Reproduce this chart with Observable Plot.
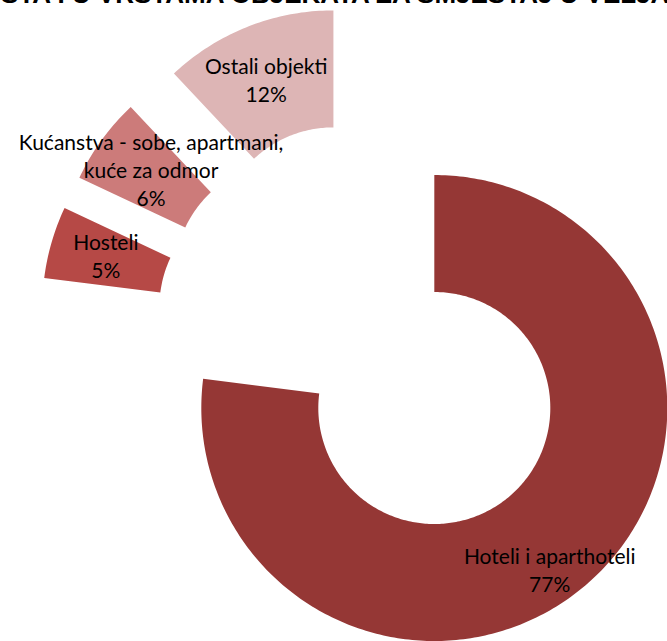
<!DOCTYPE html>
<html><head><meta charset="utf-8">
<script src="https://cdn.jsdelivr.net/npm/d3@7"></script>
<script src="https://cdn.jsdelivr.net/npm/@observablehq/plot@0.6"></script>
<style>
html,body{margin:0;padding:0;background:#fff;}
#wrap{position:relative;width:667px;height:641px;overflow:hidden;}
#title{position:absolute;left:0;top:-21px;white-space:nowrap;font:bold 26px "Liberation Sans",Arial,sans-serif;color:#000;}
#chart{position:absolute;left:0;top:0;}
</style></head><body>
<div id="wrap"><div id="title">NOĆENJA TURISTA I <span id="anchor">U VRSTAMA OBJEKATA ZA SMJEŠTAJ U VELJAČI</span></div><div id="chart"></div></div>
<script>
// data
const categories = ["Hoteli i aparthoteli", "Hosteli", "Kućanstva - sobe, apartmani, kuće za odmor", "Ostali objekti"];
const labelNames = ["Hoteli i aparthoteli", "Hosteli", "Kućanstva - sobe, apartmani,\nkuće za odmor", "Ostali objekti"];
const shares = [77, 5, 6, 12];

// styles / layout
const colors = ["#953735", "#B64946", "#CC7B7A", "#DDB5B5"];
const W = 667, H = 641;
const center = [369, 334];
const outerR = 233, innerR = 116, explode = 98;
const labelNudge = {
  "Hoteli i aparthoteli": [0, 30],
  "Hosteli": [-2, -3],
  "Kućanstva - sobe, apartmani, kuće za odmor": [2, -5],
  "Ostali objekti": [-3, -2]
};

const total = d3.sum(shares);
let acc = 0;
const slices = categories.map((name, i) => {
  const a0 = acc / total * 2 * Math.PI;
  acc += shares[i];
  const a1 = acc / total * 2 * Math.PI;
  const mid = (a0 + a1) / 2;
  const cx = center[0] + explode * Math.sin(mid);
  const cy = center[1] - explode * Math.cos(mid);
  return {name, i, a0, a1, mid, cx, cy};
});

const pts = [];
for (const s of slices) {
  const n = Math.max(8, Math.ceil((s.a1 - s.a0) / (2 * Math.PI) * 400));
  for (let k = 0; k <= n; k++) {
    const a = s.a0 + (s.a1 - s.a0) * k / n;
    pts.push({name: s.name, x: s.cx + outerR * Math.sin(a), y: s.cy - outerR * Math.cos(a)});
  }
  for (let k = n; k >= 0; k--) {
    const a = s.a0 + (s.a1 - s.a0) * k / n;
    pts.push({name: s.name, x: s.cx + innerR * Math.sin(a), y: s.cy - innerR * Math.cos(a)});
  }
}

const labels = slices.map(s => {
  const rm = (outerR + innerR) / 2;
  const nudge = labelNudge[s.name] || [0, 0];
  return {
    x: s.cx + rm * Math.sin(s.mid) + nudge[0],
    y: s.cy - rm * Math.cos(s.mid) + nudge[1],
    text: labelNames[s.i] + "\n" + shares[s.i] + "%"
  };
});

const chart = Plot.plot({
  width: W, height: H, margin: 0,
  style: {background: "transparent", fontFamily: "Lato, sans-serif"},
  x: {domain: [0, W], range: [0, W], axis: null},
  y: {domain: [0, H], range: [0, H], axis: null},
  color: {domain: categories, range: colors},
  marks: [
    Plot.line(pts, {x: "x", y: "y", z: "name", fill: "name", stroke: "none", curve: "linear-closed"}),
    Plot.text(labels, {x: "x", y: "y", text: "text", fill: "#000", fontSize: 21, lineHeight: 1.333, fontFamily: "Lato, sans-serif"})
  ]
});
document.getElementById("chart").appendChild(chart);

// align title so that "U VRSTAMA" starts near x=72
const t = document.getElementById("title");
const a = document.getElementById("anchor");
t.style.left = (72 - a.offsetLeft) + "px";
</script>
</body></html>
